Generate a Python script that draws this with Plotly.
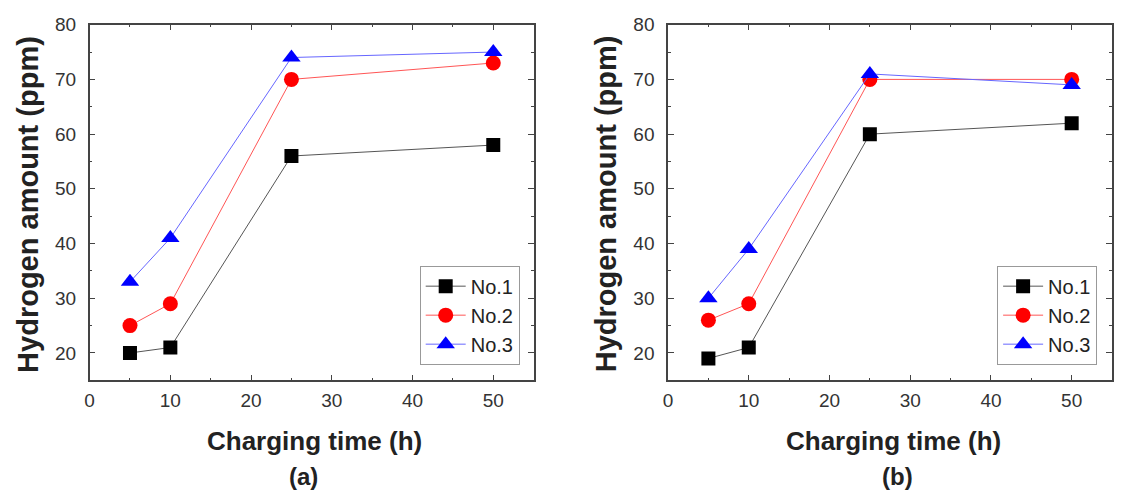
import plotly.graph_objects as go

time_h = [5, 10, 25, 50]
a_no1 = [20, 21, 56, 58]
a_no2 = [25, 29, 70, 73]
a_no3 = [33, 41, 74, 75]
b_no1 = [19, 21, 60, 62]
b_no2 = [26, 29, 70, 70]
b_no3 = [30, 39, 71, 69]
series_names = ["No.1", "No.2", "No.3"]
x_title = "Charging time (h)"
y_title = "Hydrogen amount (ppm)"
panel_labels = ["(a)", "(b)"]

W, H = 1122, 493
styles = [
    dict(color="black", line="#555555", symbol="square", size=14),
    dict(color="red", line="#ff5555", symbol="circle", size=15),
    dict(color="blue", line="#6666ff", symbol="triangle-up", size=16),
]

fig = go.Figure()
panels = [(a_no1, a_no2, a_no3), (b_no1, b_no2, b_no3)]
for pi, data in enumerate(panels):
    xa = "x" if pi == 0 else "x2"
    ya = "y" if pi == 0 else "y2"
    lg = "legend" if pi == 0 else "legend2"
    for si, vals in enumerate(data):
        st = styles[si]
        fig.add_trace(go.Scatter(
            x=time_h, y=vals, name=series_names[si], mode="lines+markers",
            xaxis=xa, yaxis=ya, legend=lg,
            line=dict(color=st["line"], width=1),
            marker=dict(color=st["color"], symbol=st["symbol"], size=st["size"],
                        line=dict(width=0)),
        ))

tickfont = dict(family="Liberation Sans, Arial, sans-serif", size=19, color="#333333")
common_x = dict(range=[0, 55], dtick=10, tick0=0, ticks="inside", ticklen=6, tickwidth=1.2,
                tickcolor="#444444", showline=True, linecolor="#444444", linewidth=1.5,
                mirror="ticks", showgrid=False, zeroline=False, tickfont=tickfont,
                ticklabelstandoff=2,
                minor=dict(ticks="inside", ticklen=3, dtick=5, tickcolor="#444444", showgrid=False))
common_y = dict(range=[15, 80], dtick=10, tick0=0, ticks="inside", ticklen=6, tickwidth=1.2,
                tickcolor="#444444", showline=True, linecolor="#444444", linewidth=1.5,
                mirror="ticks", showgrid=False, zeroline=False, tickfont=tickfont,
                ticklabelstandoff=8,
                minor=dict(ticks="inside", ticklen=3, dtick=5, tickcolor="#444444", showgrid=False))

ax_dom = [(85 / W, 531 / W), (666 / W, 1112 / W)]
y_dom = (1 - 378 / H, 1 - 15 / H)

legend_common = dict(bgcolor="white", bordercolor="#999999", borderwidth=1,
                     font=dict(family="Liberation Sans, Arial, sans-serif", size=20, color="#222222"),
                     xanchor="right", yanchor="bottom", tracegroupgap=0, itemwidth=40)

title_font = dict(family="Liberation Sans, Arial, sans-serif", size=26, color="#222222")
label_font = dict(family="Liberation Sans, Arial, sans-serif", size=24, color="#222222")
ytitle_font = dict(family="Liberation Sans, Arial, sans-serif", size=29, color="#222222")

annotations = []
xt_centers = [311, 892]
yt_centers = [23, 604]
lab_centers = [300, 896]
for pi in range(2):
    annotations.append(dict(text="<b>" + x_title + "</b>", x=xt_centers[pi] / W, y=1 - 440 / H,
                            xref="paper", yref="paper", showarrow=False, font=title_font,
                            xanchor="center", yanchor="middle"))
    annotations.append(dict(text="<b>" + panel_labels[pi] + "</b>", x=lab_centers[pi] / W, y=1 - 476 / H,
                            xref="paper", yref="paper", showarrow=False, font=label_font,
                            xanchor="center", yanchor="middle"))
    annotations.append(dict(text="<b>" + y_title + "</b>", x=yt_centers[pi] / W, y=1 - 198 / H,
                            xref="paper", yref="paper", showarrow=False, font=ytitle_font,
                            textangle=-90, xanchor="center", yanchor="middle"))

fig.update_layout(
    width=W, height=H, margin=dict(l=0, r=0, t=0, b=0),
    paper_bgcolor="white", plot_bgcolor="white",
    xaxis=dict(domain=ax_dom[0], anchor="y", **common_x),
    yaxis=dict(domain=y_dom, anchor="x", **common_y),
    xaxis2=dict(domain=ax_dom[1], anchor="y2", **common_x),
    yaxis2=dict(domain=y_dom, anchor="x2", **common_y),
    legend=dict(x=517 / W, y=1 - 362 / H, **legend_common),
    legend2=dict(x=1097 / W, y=1 - 362 / H, **legend_common),
    annotations=annotations,
    showlegend=True,
)

fig.write_html("out.html")
